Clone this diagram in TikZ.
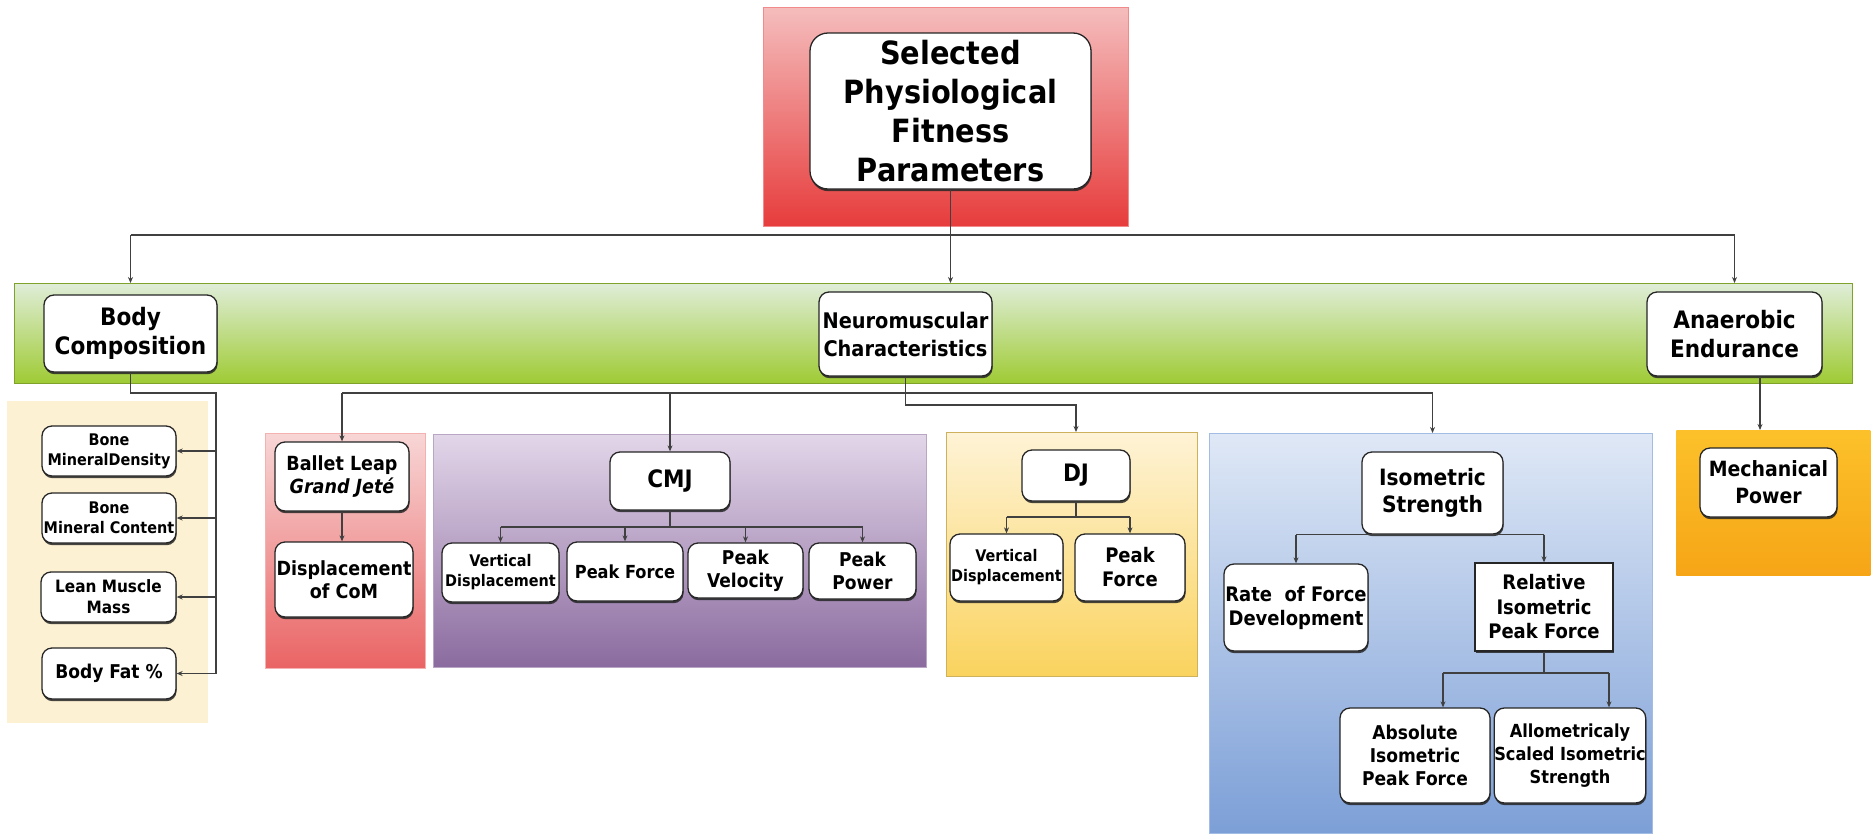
\documentclass[tikz,border=0pt]{standalone}
\usepackage{fontspec}
\setmainfont{DejaVuSansCondensed}[Extension=.ttf,UprightFont=*,BoldFont=*-Bold,ItalicFont=*-Oblique,BoldItalicFont=*-BoldOblique]
\usetikzlibrary{arrows.meta,shadows,calc}
\definecolor{redA}{HTML}{F5BDBD}
\definecolor{redB}{HTML}{E73C3C}
\definecolor{grnA}{HTML}{DFEDD8}
\definecolor{grnB}{HTML}{9FCB34}
\definecolor{beige}{HTML}{FDF1D3}
\definecolor{balA}{HTML}{F8D6D6}
\definecolor{balB}{HTML}{EA6464}
\definecolor{purA}{HTML}{E2D6E9}
\definecolor{purB}{HTML}{8B6B9F}
\definecolor{yelA}{HTML}{FEF3D6}
\definecolor{yelB}{HTML}{FAD35E}
\definecolor{bluA}{HTML}{DFE8F6}
\definecolor{bluB}{HTML}{7C9FD7}
\definecolor{oraA}{HTML}{FCC12A}
\definecolor{oraB}{HTML}{F6A517}
\begin{document}
\begin{tikzpicture}[x=1pt,y=-1pt,
  bx/.style={draw=black!85, line width=1.3pt, rounded corners=10pt, fill=white,
    align=center, inner sep=0pt,
    drop shadow={shadow xshift=0.6pt, shadow yshift=-2.2pt, fill=black!85, opacity=.85}},
  sz/.style 2 args={minimum width=#1, minimum height=#2},
  fs/.style 2 args={font=\fontsize{#1}{#2}\selectfont\bfseries},
  bg/.style={inner sep=0pt, anchor=north west, line width=0.6pt},
  ln/.style={draw=black!75, line width=1.1pt},
  arr/.style={draw=black!75, line width=1.1pt, -{Stealth[length=6pt,width=5pt]}}
]
\useasboundingbox (0,0) rectangle (1874,833);
\fill[white] (0,0) rectangle (1874,833);

% background panels
\node[bg, top color=redA, bottom color=redB, draw=redB!60!white, sz={365}{219}] (redtop) at (763,7) {};
\node[bg, top color=grnA, bottom color=grnB, draw=grnB!80!black, sz={1838}{100}] (green) at (14,283) {};
\node[bg, fill=beige, sz={201}{322}] (beigebg) at (7,401) {};
\node[bg, top color=balA, bottom color=balB, draw=balB!50!white, sz={160}{235}] (balletbg) at (265,433) {};
\node[bg, top color=purA, bottom color=purB, draw=purB!60!white, sz={493}{233}] (purplebg) at (433,434) {};
\node[bg, top color=yelA, bottom color=yelB, draw=yelB!80!black!90, sz={251}{244}] (yellowbg) at (946,432) {};
\node[bg, top color=bluA, bottom color=bluB, draw=bluB!70!white, sz={443}{400}] (bluebg) at (1209,433) {};
\node[bg, top color=oraA, bottom color=oraB, sz={194}{145}] (orangebg) at (1676,430) {};

% nodes
\node[bx, rounded corners=18pt, sz={281}{156}, fs={32}{39}] (title) at (950.5,111) {Selected\\Physiological\\Fitness\\Parameters};
\node[bx, sz={173}{77}, fs={24}{29}] (body) at (130.5,333.5) {Body\\Composition};
\node[bx, sz={173}{84}, fs={21.5}{28}] (neuro) at (905.5,334) {Neuromuscular\\Characteristics};
\node[bx, sz={175}{84}, fs={24}{29}] (anaer) at (1734.5,334) {Anaerobic\\Endurance};

\node[bx, sz={134}{50}, fs={16}{20}] (bmd) at (109,451) {Bone\\MineralDensity};
\node[bx, sz={134}{50}, fs={16}{20}] (bmc) at (109,518) {Bone\\Mineral Content};
\node[bx, sz={135}{50}, fs={17}{21}] (lmm) at (108.5,597) {Lean Muscle\\Mass};
\node[bx, sz={134}{51}, fs={19}{23}] (bfp) at (109,673.5) {Body Fat \%};

\node[bx, sz={134}{69}, fs={19.5}{23}] (ballet) at (342,476.5) {Ballet Leap\\\textit{Grand Jeté}};
\node[bx, sz={138}{75}, fs={19.5}{23}] (dcom) at (344,579.5) {Displacement\\of CoM};

\node[bx, sz={120}{58}, fs={24}{29}] (cmj) at (670,481) {CMJ};
\node[bx, sz={117}{59}, fs={16}{20}] (cvd) at (500.5,572.5) {Vertical\\Displacement};
\node[bx, sz={116}{59}, fs={18}{22}] (cpf) at (625,571.5) {Peak Force};
\node[bx, sz={115}{55}, fs={19}{23}] (cpv) at (745.5,570.5) {Peak\\Velocity};
\node[bx, sz={107}{56}, fs={19}{23}] (cpp) at (862.5,571) {Peak\\Power};

\node[bx, sz={108}{51}, fs={24}{29}] (dj) at (1076,475.5) {DJ};
\node[bx, sz={113}{67}, fs={16}{20}] (dvd) at (1006.5,567.5) {Vertical\\Displacement};
\node[bx, sz={110}{67}, fs={20}{24}] (dpf) at (1130,567.5) {Peak\\Force};

\node[bx, sz={141}{82}, fs={22.5}{27}] (iso) at (1432.5,493) {Isometric\\Strength};
\node[bx, sz={144}{87}, fs={20}{24}] (rfd) at (1296,607.5) {Rate~~of Force\\Development};
\node[bx, rounded corners=0pt, sz={138}{88}, fs={20}{24.5},
  drop shadow={shadow xshift=0.5pt, shadow yshift=-1.2pt, fill=black!70, opacity=.7}] (ripf) at (1544,607) {Relative\\Isometric\\Peak Force};
\node[bx, sz={150}{95}, fs={19}{23}] (aipf) at (1415,755.5) {Absolute\\Isometric\\Peak Force};
\node[bx, sz={150}{95}, fs={18}{23}] (asis) at (1570,755.5) {Allometricaly\\Scaled Isometric\\Strength};

\node[bx, sz={137}{69}, fs={21}{27}] (mech) at (1768.5,482.5) {Mechanical\\Power};

% helper coordinates
\coordinate (h1) at (0,235);
\coordinate (h2) at (0,393);
\coordinate (h3) at (0,405);
\coordinate (h4) at (0,527);
\coordinate (h5) at (0,517);
\coordinate (h6) at (0,673);
\coordinate (xb) at (216,0);
\coordinate (xa) at (1443,0);
\coordinate (xs) at (1609,0);
\coordinate (xm) at (1760,0);

% top level
\draw[arr] (title.south) -- (title.south |- green.north);
\draw[ln] (body |- h1) -- (anaer |- h1);
\draw[arr] (body |- h1) -- (body |- green.north);
\draw[arr] (anaer |- h1) -- (anaer |- green.north);

% body composition
\draw[ln] (body.south) |- (xb |- h2) -- (xb |- bfp);
\foreach \n in {bmd,bmc,lmm,bfp} \draw[arr] (xb |- \n) -- (\n.east);

% neuromuscular
\draw[arr] (neuro.south) |- (dj |- h3) -- (dj |- yellowbg.north);
\draw[ln] (ballet |- h2) -- (iso |- h2);
\draw[arr] (ballet |- h2) -- (ballet.north);
\draw[arr] (cmj |- h2) -- (cmj.north);
\draw[arr] (iso |- h2) -- (iso |- bluebg.north);
\draw[arr] (ballet.south) -- (ballet.south |- dcom.north);

% CMJ
\draw[ln] (cmj.south) -- (cmj.south |- h4);
\draw[ln] (cvd |- h4) -- (cpp |- h4);
\foreach \n in {cvd,cpf,cpv,cpp} \draw[arr] (\n |- h4) -- (\n.north);

% DJ
\draw[ln] (dj.south) -- (dj.south |- h5);
\draw[ln] (dvd |- h5) -- (dpf |- h5);
\foreach \n in {dvd,dpf} \draw[arr] (\n |- h5) -- (\n.north);

% Isometric
\draw[ln] (rfd |- iso.south) -- (ripf |- iso.south);
\foreach \n in {rfd,ripf} \draw[arr] (\n |- iso.south) -- (\n.north);
\draw[ln] (ripf.south) -- (ripf.south |- h6);
\draw[ln] (xa |- h6) -- (xs |- h6);
\draw[arr] (xa |- h6) -- (xa |- aipf.north);
\draw[arr] (xs |- h6) -- (xs |- asis.north);

% anaerobic
\draw[arr] (xm |- anaer.south) -- (xm |- orangebg.north);
\end{tikzpicture}
\end{document}
